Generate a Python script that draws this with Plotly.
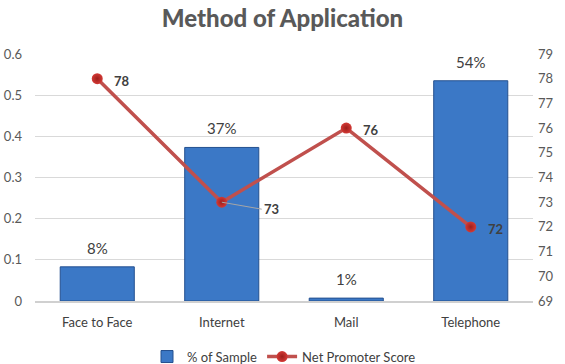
import plotly.graph_objects as go

categories = ["Face to Face", "Internet", "Mail", "Telephone"]
pct_sample = [0.083, 0.373, 0.007, 0.535]
pct_labels = ["8%", "37%", "1%", "54%"]
nps = [78, 73, 76, 72]
nps_labels = ["78", "73", "76", "72"]

left_ticks = [0, 0.1, 0.2, 0.3, 0.4, 0.5, 0.6]
left_ticktext = ["0", "0.1", "0.2", "0.3", "0.4", "0.5", "0.6"]
right_ticks = list(range(69, 80))

FONT = "Lato, 'Open Sans', sans-serif"
GRAY = "#595959"

fig = go.Figure()
fig.add_trace(go.Bar(
    x=categories, y=pct_sample, name="% of Sample",
    marker=dict(color="#3B78C6", line=dict(color="#24508F", width=1)),
    yaxis="y",
))
fig.add_trace(go.Scatter(
    x=categories, y=nps, name="Net Promoter Score", yaxis="y2",
    mode="lines+markers",
    line=dict(color="#C0504D", width=3.5),
    marker=dict(size=11, color="#D33A36",
                gradient=dict(type="radial", color="#9E1E1B"),
                line=dict(width=0)),
    cliponaxis=False,
))

# bar data labels
for cat, val, lab in zip(categories, pct_sample, pct_labels):
    fig.add_annotation(
        x=cat, y=val, xref="x", yref="y", text=lab, showarrow=False,
        yanchor="middle", yshift=19,
        font=dict(size=15, color="#404040", family=FONT),
    )

# line data labels
for cat, val, lab in zip(categories, nps, nps_labels):
    if lab == "73":
        fig.add_annotation(
            x=cat, y=val, xref="x", yref="y2",
            text="<b>%s</b>" % lab, showarrow=True, arrowhead=0, arrowwidth=1,
            arrowcolor="#A6A6A6", ax=40, ay=7, xanchor="left", yanchor="middle",
            font=dict(size=13, color="#404040", family=FONT),
        )
    else:
        fig.add_annotation(
            x=cat, y=val, xref="x", yref="y2", text="<b>%s</b>" % lab,
            showarrow=False, xanchor="left", yanchor="middle",
            xshift=15, yshift=-2,
            font=dict(size=13, color="#404040", family=FONT),
        )

fig.update_layout(
    width=565, height=364,
    margin=dict(l=35, r=32, t=54, b=63, autoexpand=False),
    paper_bgcolor="white", plot_bgcolor="white",
    font=dict(family=FONT, color=GRAY, size=12),
    title=dict(text="Method of Application", x=0.5, xanchor="center",
               y=0.95, yanchor="middle", yref="container",
               font=dict(size=24, color=GRAY, family=FONT, weight=900)),
    bargap=0.405,
    showlegend=True,
    legend=dict(orientation="h", x=0.5, xanchor="center", y=-0.225,
                yanchor="middle", font=dict(size=13, color="#404040")),
    xaxis=dict(showline=True, linecolor="#D0D0D0", linewidth=2,
               tickfont=dict(size=13, color="#404040"), ticks="",
               ticklabelstandoff=8, automargin=False),
    yaxis=dict(range=[0, 0.6], tickvals=left_ticks, ticktext=left_ticktext,
               showgrid=True, gridcolor="#D9D9D9", gridwidth=1,
               zeroline=False, tickfont=dict(size=13, color=GRAY),
               ticklabelstandoff=12, automargin=False),
    yaxis2=dict(range=[69, 79], tickvals=right_ticks, overlaying="y",
                side="right", showgrid=False, zeroline=False,
                tickfont=dict(size=13, color=GRAY), ticklabelstandoff=4,
                automargin=False),
)

fig.write_html("out.html", config={"displayModeBar": False},
               post_script="document.body.style.margin='0';")
